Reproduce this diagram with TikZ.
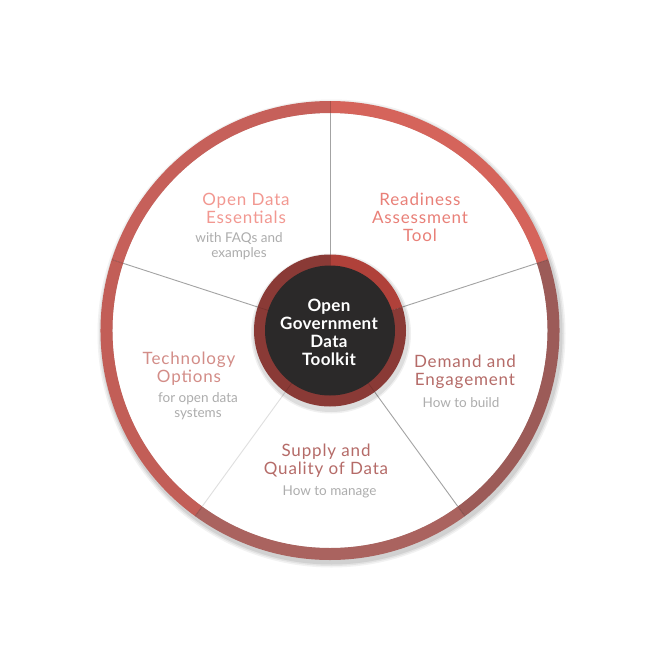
\documentclass[tikz,border=0pt]{standalone}
\usepackage{fontspec}
\setmainfont{Lato}
\usetikzlibrary{calc}
\definecolor{segTR}{HTML}{D5645B}
\definecolor{segTL}{HTML}{C6605A}
\definecolor{segL}{HTML}{C25E57}
\definecolor{segB}{HTML}{AA635F}
\definecolor{segR}{HTML}{9C5B58}
\definecolor{inTR}{HTML}{B0413A}
\definecolor{inO}{HTML}{8A3A36}
\definecolor{core}{HTML}{2B2929}
\definecolor{tPink}{HTML}{F29891}
\definecolor{tSalmon}{HTML}{E98078}
\definecolor{tMuted}{HTML}{B56B68}
\definecolor{tTech}{HTML}{D38D88}
\definecolor{tSub}{HTML}{ADADAD}
\definecolor{divider}{HTML}{A3A3A3}
\tikzset{
  title/.style={align=center, inner sep=0pt, font=\fontsize{17}{18}\selectfont\addfontfeature{LetterSpace=5}},
  subtitle/.style={align=center, inner sep=0pt, text=tSub, font=\fontsize{13.5}{15}\selectfont},
  divline/.style={draw=divider, line width=0.9pt},
}
\newcommand{\annseg}[5]{% color, start, end, outer r, inner r
  \fill[#1] (#2:#4) arc[start angle=#2, end angle=#3, radius=#4] -- (#3:#5) arc[start angle=#3, end angle=#2, radius=#5] -- cycle;}
\begin{document}
\begin{tikzpicture}[x=1pt,y=1pt]
\useasboundingbox (0,-662) rectangle (659,0);
\fill[white] (0,-662) rectangle (659,0);
\coordinate (C) at (330,-330.5);
\begin{scope}[shift={(C)}]
  % shadow of outer ring
  \foreach \o/\r in {0.05/234, 0.06/232.5, 0.08/231}{
    \fill[black, opacity=\o] (1.5,-3) circle (\r);
  }
  \fill[white] (0,0) circle (217.5);
  % outer ring segments
  \annseg{segTR}{18}{90}{229.5}{217.5}
  \annseg{segTL}{90}{162}{229.5}{217.5}
  \annseg{segL}{162}{234}{229.5}{217.5}
  \annseg{segB}{234}{306}{229.5}{217.5}
  \annseg{segR}{306}{378}{229.5}{217.5}
  % dividers
  \coordinate (d1a) at (90:76);  \coordinate (d1b) at (90:217.5);
  \coordinate (d2a) at (18:76);  \coordinate (d2b) at (18:217.5);
  \coordinate (d3a) at (306:76); \coordinate (d3b) at (306:217.5);
  \coordinate (d4a) at (234:76); \coordinate (d4b) at (234:217.5);
  \coordinate (d5a) at (162:76); \coordinate (d5b) at (162:217.5);
  \draw[divline] (d1a) -- (d1b);
  \draw[divline] (d2a) -- (d2b);
  \draw[divline] (d3a) -- (d3b);
  \draw[divline, draw=divider!35] (d4a) -- (d4b);
  \draw[divline] (d5a) -- (d5b);
  % ring boundary ticks
  \foreach \a in {90,18,306,234,162}{
    \draw[black, opacity=0.18, line width=0.8pt] (\a:217.5) -- (\a:229.5);
  }
  % inner circle shadow
  \foreach \o/\r in {0.06/80, 0.08/78.5}{
    \fill[black, opacity=\o] (1,-3) circle (\r);
  }
  \annseg{inTR}{18}{90}{76}{64}
  \annseg{inO}{90}{378}{76}{64}
  \foreach \a in {90,18,306,234,162}{
    \draw[black, opacity=0.15, line width=0.6pt] (\a:64) -- (\a:76);
  }
  \fill[core] (0,0) circle (65);
\end{scope}
% center text
\node[title, text=white, font=\fontsize{17}{18}\bfseries\selectfont\addfontfeature{LetterSpace=2}] (center) at (329,-332) {Open\\Government\\Data\\Toolkit};
% segment labels
\node[title, text=tPink] (ode) at (246,-208) {Open Data\\Essentials};
\node[subtitle] (odesub) at (239,-246) {with FAQs and\\examples};
\node[title, text=tSalmon] (rat) at (420,-217) {Readiness\\Assessment\\Tool};
\node[title, text=tMuted] (dae) at (465,-372) {Demand and\\Engagement};
\node[subtitle] (daesub) at (461,-402.5) {How to build};
\node[title, text=tMuted] (sqd) at (326,-460.5) {Supply and\\Quality of Data};
\node[subtitle] (sqdsub) at (329.5,-491.5) {How to manage};
\node[title, text=tTech] (tech) at (189,-368.5) {Technology\\Options};
\node[subtitle] (techsub) at (198,-406) {for open data\\systems};
\end{tikzpicture}
\end{document}
